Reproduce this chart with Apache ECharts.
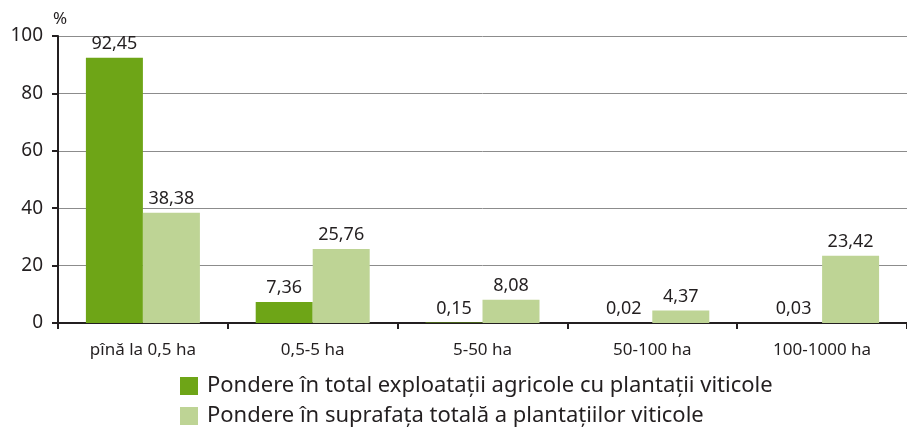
<!DOCTYPE html>
<html>
<head>
<meta charset="utf-8">
<script src="https://cdn.jsdelivr.net/npm/echarts@6/dist/echarts.min.js"></script>
<style>
  html, body { margin: 0; padding: 0; background: #fff; }
  #echart { width: 907px; height: 432px; }
</style>
</head>
<body>
<div id="echart"></div>
<script type="text/javascript">
var categories = ["pînă la 0,5 ha", "0,5-5 ha", "5-50 ha", "50-100 ha", "100-1000 ha"];
var seriesNames = [
  "Pondere în total exploatații agricole cu plantații viticole",
  "Pondere în suprafața totală a plantațiilor viticole"
];
var exploatatii = [92.45, 7.36, 0.15, 0.02, 0.03];
var suprafata = [38.38, 25.76, 8.08, 4.37, 23.42];
var yTicks = [0, 20, 40, 60, 80, 100];

var FONT = "Noto Sans";
var chart = echarts.init(document.getElementById("echart"));

// eticheta cu virgula zecimala
function fmt(p) {
  return p.value.toFixed(2).replace(".", ",");
}

chart.setOption({
  animation: false,
  textStyle: { fontFamily: FONT },
  grid: { left: 58, right: -12, top: 36, bottom: 109 },
  legend: {
    orient: "vertical",
    left: 180,
    top: 375,
    padding: 0,
    itemWidth: 18,
    itemHeight: 18,
    itemGap: 8,
    icon: "rect",
    textStyle: { fontSize: 22, lineHeight: 22, color: "#231f20", fontFamily: FONT, padding: [0, 0, 0, 4] },
    data: seriesNames
  },
  xAxis: {
    type: "category",
    data: categories,
    axisLine: { lineStyle: { color: "#231f20", width: 2 } },
    axisTick: { show: true, length: 6, alignWithLabel: false, lineStyle: { color: "#231f20", width: 2 } },
    axisLabel: { fontSize: 17, color: "#231f20", margin: 19 }
  },
  yAxis: {
    type: "value",
    min: yTicks[0],
    max: yTicks[yTicks.length - 1],
    interval: 20,
    name: "%",
    nameLocation: "end",
    nameGap: 8,
    nameTextStyle: { fontSize: 17, color: "#231f20", align: "left", padding: [0, 0, 0, -5] },
    axisLine: { show: true, lineStyle: { color: "#231f20", width: 2 } },
    axisTick: { show: true, length: 6, lineStyle: { color: "#231f20", width: 2 } },
    axisLabel: { fontSize: 19, color: "#231f20", margin: 15 },
    splitLine: { show: true, lineStyle: { color: "#8c8c8c", width: 1 } }
  },
  series: [
    {
      name: seriesNames[0],
      type: "bar",
      data: exploatatii,
      barWidth: 57,
      barGap: "0%",
      itemStyle: { color: "#6ea517" },
      label: { show: true, position: "top", distance: 5, fontSize: 18, color: "#231f20", formatter: fmt }
    },
    {
      name: seriesNames[1],
      type: "bar",
      data: suprafata,
      barWidth: 57,
      barGap: "0%",
      itemStyle: { color: "#bed495" },
      label: { show: true, position: "top", distance: 5, fontSize: 18, color: "#231f20", formatter: fmt }
    }
  ]
});
</script>
</body>
</html>
